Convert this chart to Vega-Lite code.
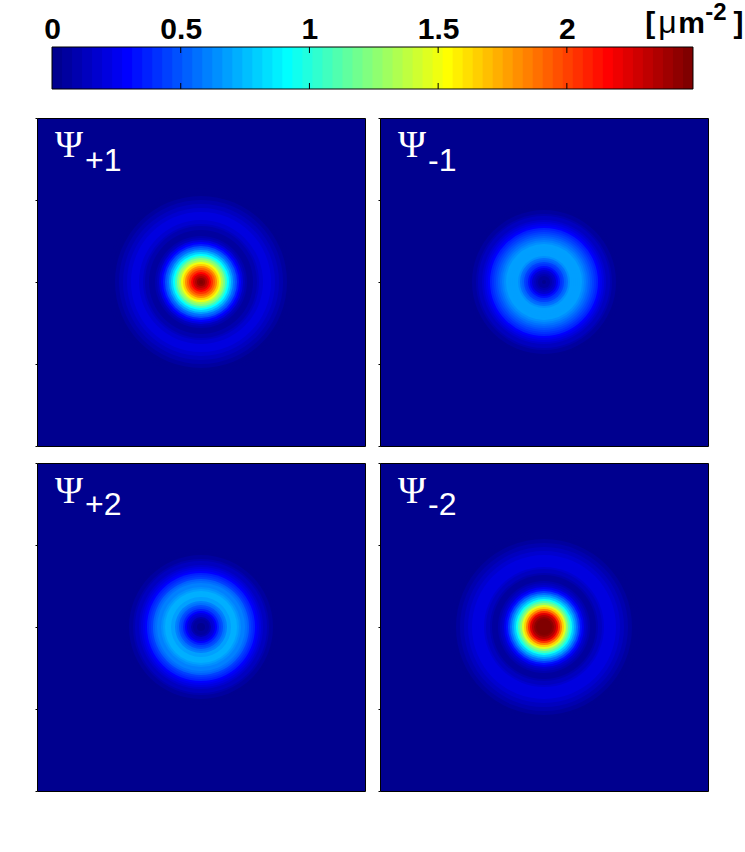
{
"$schema":"https://vega.github.io/schema/vega-lite/v6.json",
"padding":{"left":34,"top":0,"right":0,"bottom":0},
"background":"white",
"config":{"view":{"stroke":null}},
"spacing":27,
"datasets":{"rows":[
{"p":"+1","r":94,"d":0.005},{"p":"+1","r":92,"d":0.01},{"p":"+1","r":90,"d":0.02},{"p":"+1","r":88,"d":0.03},{"p":"+1","r":86,"d":0.045},{"p":"+1","r":84,"d":0.06},{"p":"+1","r":82,"d":0.08},{"p":"+1","r":80,"d":0.10},{"p":"+1","r":78,"d":0.12},{"p":"+1","r":76,"d":0.14},{"p":"+1","r":74,"d":0.16},{"p":"+1","r":72,"d":0.18},{"p":"+1","r":70,"d":0.20},{"p":"+1","r":68,"d":0.21},{"p":"+1","r":66,"d":0.21},{"p":"+1","r":64,"d":0.20},{"p":"+1","r":62,"d":0.19},{"p":"+1","r":60,"d":0.17},{"p":"+1","r":58,"d":0.14},{"p":"+1","r":56,"d":0.11},{"p":"+1","r":54,"d":0.09},{"p":"+1","r":52,"d":0.07},{"p":"+1","r":50,"d":0.06},{"p":"+1","r":48,"d":0.07},{"p":"+1","r":46,"d":0.10},{"p":"+1","r":44,"d":0.15},{"p":"+1","r":42,"d":0.21},{"p":"+1","r":40,"d":0.28},{"p":"+1","r":38,"d":0.37},{"p":"+1","r":36,"d":0.47},{"p":"+1","r":34,"d":0.57},{"p":"+1","r":32,"d":0.68},{"p":"+1","r":30,"d":0.80},{"p":"+1","r":28,"d":0.93},{"p":"+1","r":26,"d":1.07},{"p":"+1","r":24,"d":1.21},{"p":"+1","r":22,"d":1.36},{"p":"+1","r":20,"d":1.50},{"p":"+1","r":18,"d":1.65},{"p":"+1","r":16,"d":1.79},{"p":"+1","r":14,"d":1.92},{"p":"+1","r":12,"d":2.05},{"p":"+1","r":10,"d":2.17},{"p":"+1","r":8,"d":2.27},{"p":"+1","r":6,"d":2.36},{"p":"+1","r":4,"d":2.42},{"p":"+1","r":2,"d":2.46},
{"p":"-1","r":78,"d":0.01},{"p":"-1","r":76,"d":0.02},{"p":"-1","r":74,"d":0.03},{"p":"-1","r":72,"d":0.05},{"p":"-1","r":70,"d":0.07},{"p":"-1","r":68,"d":0.09},{"p":"-1","r":66,"d":0.12},{"p":"-1","r":64,"d":0.15},{"p":"-1","r":62,"d":0.18},{"p":"-1","r":60,"d":0.22},{"p":"-1","r":58,"d":0.26},{"p":"-1","r":56,"d":0.31},{"p":"-1","r":54,"d":0.36},{"p":"-1","r":52,"d":0.41},{"p":"-1","r":50,"d":0.46},{"p":"-1","r":48,"d":0.50},{"p":"-1","r":46,"d":0.54},{"p":"-1","r":44,"d":0.58},{"p":"-1","r":42,"d":0.61},{"p":"-1","r":40,"d":0.64},{"p":"-1","r":38,"d":0.67},{"p":"-1","r":36,"d":0.69},{"p":"-1","r":34,"d":0.70},{"p":"-1","r":32,"d":0.70},{"p":"-1","r":30,"d":0.69},{"p":"-1","r":28,"d":0.67},{"p":"-1","r":26,"d":0.63},{"p":"-1","r":24,"d":0.58},{"p":"-1","r":22,"d":0.52},{"p":"-1","r":20,"d":0.46},{"p":"-1","r":18,"d":0.39},{"p":"-1","r":16,"d":0.32},{"p":"-1","r":14,"d":0.25},{"p":"-1","r":12,"d":0.18},{"p":"-1","r":10,"d":0.13},{"p":"-1","r":8,"d":0.09},{"p":"-1","r":6,"d":0.06},{"p":"-1","r":4,"d":0.04},{"p":"-1","r":2,"d":0.03},
{"p":"+2","r":78,"d":0.01},{"p":"+2","r":76,"d":0.02},{"p":"+2","r":74,"d":0.03},{"p":"+2","r":72,"d":0.05},{"p":"+2","r":70,"d":0.07},{"p":"+2","r":68,"d":0.09},{"p":"+2","r":66,"d":0.12},{"p":"+2","r":64,"d":0.15},{"p":"+2","r":62,"d":0.18},{"p":"+2","r":60,"d":0.22},{"p":"+2","r":58,"d":0.26},{"p":"+2","r":56,"d":0.31},{"p":"+2","r":54,"d":0.36},{"p":"+2","r":52,"d":0.41},{"p":"+2","r":50,"d":0.46},{"p":"+2","r":48,"d":0.51},{"p":"+2","r":46,"d":0.55},{"p":"+2","r":44,"d":0.59},{"p":"+2","r":42,"d":0.62},{"p":"+2","r":40,"d":0.65},{"p":"+2","r":38,"d":0.70},{"p":"+2","r":36,"d":0.72},{"p":"+2","r":34,"d":0.73},{"p":"+2","r":32,"d":0.72},{"p":"+2","r":30,"d":0.70},{"p":"+2","r":28,"d":0.67},{"p":"+2","r":26,"d":0.62},{"p":"+2","r":24,"d":0.56},{"p":"+2","r":22,"d":0.50},{"p":"+2","r":20,"d":0.43},{"p":"+2","r":18,"d":0.36},{"p":"+2","r":16,"d":0.29},{"p":"+2","r":14,"d":0.22},{"p":"+2","r":12,"d":0.16},{"p":"+2","r":10,"d":0.11},{"p":"+2","r":8,"d":0.07},{"p":"+2","r":6,"d":0.05},{"p":"+2","r":4,"d":0.03},{"p":"+2","r":2,"d":0.02},
{"p":"-2","r":96,"d":0.005},{"p":"-2","r":94,"d":0.01},{"p":"-2","r":92,"d":0.02},{"p":"-2","r":90,"d":0.03},{"p":"-2","r":88,"d":0.045},{"p":"-2","r":86,"d":0.06},{"p":"-2","r":84,"d":0.08},{"p":"-2","r":82,"d":0.10},{"p":"-2","r":80,"d":0.12},{"p":"-2","r":78,"d":0.14},{"p":"-2","r":76,"d":0.16},{"p":"-2","r":74,"d":0.18},{"p":"-2","r":72,"d":0.20},{"p":"-2","r":70,"d":0.22},{"p":"-2","r":68,"d":0.22},{"p":"-2","r":66,"d":0.22},{"p":"-2","r":64,"d":0.21},{"p":"-2","r":62,"d":0.20},{"p":"-2","r":60,"d":0.18},{"p":"-2","r":58,"d":0.15},{"p":"-2","r":56,"d":0.12},{"p":"-2","r":54,"d":0.09},{"p":"-2","r":52,"d":0.07},{"p":"-2","r":50,"d":0.06},{"p":"-2","r":48,"d":0.06},{"p":"-2","r":46,"d":0.09},{"p":"-2","r":44,"d":0.13},{"p":"-2","r":42,"d":0.19},{"p":"-2","r":40,"d":0.26},{"p":"-2","r":38,"d":0.35},{"p":"-2","r":36,"d":0.45},{"p":"-2","r":34,"d":0.56},{"p":"-2","r":32,"d":0.68},{"p":"-2","r":30,"d":0.81},{"p":"-2","r":28,"d":0.95},{"p":"-2","r":26,"d":1.10},{"p":"-2","r":24,"d":1.27},{"p":"-2","r":22,"d":1.45},{"p":"-2","r":20,"d":1.65},{"p":"-2","r":18,"d":1.85},{"p":"-2","r":16,"d":2.05},{"p":"-2","r":14,"d":2.22},{"p":"-2","r":12,"d":2.35},{"p":"-2","r":10,"d":2.45},{"p":"-2","r":8,"d":2.48}],
"labels":[
{"p":"+1","psi":"Ψ","sub":"+1","px":18,"sx":48,"py":289,"sy":275},
{"p":"-1","psi":"Ψ","sub":"-1","px":18,"sx":48,"py":289,"sy":275},
{"p":"+2","psi":"Ψ","sub":"+2","px":18,"sx":48,"py":288,"sy":276},
{"p":"-2","psi":"Ψ","sub":"-2","px":18,"sx":48,"py":288,"sy":276}]},
"vconcat":[
{"width":671,"height":42,
 "layer":[
 {"data":{"values":[{"lo":0,"d":0.02},{"lo":0.0389,"d":0.06},{"lo":0.0778,"d":0.10},{"lo":0.1167,"d":0.14},{"lo":0.1556,"d":0.18},{"lo":0.1945,"d":0.21},{"lo":0.2334,"d":0.25},{"lo":0.2723,"d":0.29},{"lo":0.3112,"d":0.33},{"lo":0.3501,"d":0.37},{"lo":0.3891,"d":0.41},{"lo":0.4280,"d":0.45},{"lo":0.4669,"d":0.49},{"lo":0.5058,"d":0.53},{"lo":0.5447,"d":0.56},{"lo":0.5836,"d":0.60},{"lo":0.6225,"d":0.64},{"lo":0.6614,"d":0.68},{"lo":0.7003,"d":0.72},{"lo":0.7392,"d":0.76},{"lo":0.7781,"d":0.80},{"lo":0.8170,"d":0.84},{"lo":0.8559,"d":0.88},{"lo":0.8948,"d":0.91},{"lo":0.9337,"d":0.95},{"lo":0.9727,"d":0.99},{"lo":1.0116,"d":1.03},{"lo":1.0505,"d":1.07},{"lo":1.0894,"d":1.11},{"lo":1.1283,"d":1.15},{"lo":1.1672,"d":1.19},{"lo":1.2061,"d":1.23},{"lo":1.2450,"d":1.26},{"lo":1.2839,"d":1.30},{"lo":1.3228,"d":1.34},{"lo":1.3617,"d":1.38},{"lo":1.4006,"d":1.42},{"lo":1.4395,"d":1.46},{"lo":1.4784,"d":1.50},{"lo":1.5173,"d":1.54},{"lo":1.5563,"d":1.58},{"lo":1.5952,"d":1.61},{"lo":1.6341,"d":1.65},{"lo":1.6730,"d":1.69},{"lo":1.7119,"d":1.73},{"lo":1.7508,"d":1.77},{"lo":1.7897,"d":1.81},{"lo":1.8286,"d":1.85},{"lo":1.8675,"d":1.89},{"lo":1.9064,"d":1.93},{"lo":1.9453,"d":1.96},{"lo":1.9842,"d":2.00},{"lo":2.0231,"d":2.04},{"lo":2.0620,"d":2.08},{"lo":2.1009,"d":2.12},{"lo":2.1399,"d":2.16},{"lo":2.1788,"d":2.20},{"lo":2.2177,"d":2.24},{"lo":2.2566,"d":2.28},{"lo":2.2955,"d":2.31},{"lo":2.3344,"d":2.35},{"lo":2.3733,"d":2.39},{"lo":2.4122,"d":2.43},{"lo":2.4511,"d":2.47}]},
  "mark":{"type":"rect"},
  "encoding":{
   "x":{"field":"lo","type":"quantitative","scale":{"domain":[-0.0583,2.5483],"nice":false,"zero":false},
    "axis":{"orient":"top","values":[0,0.5,1,1.5,2],"format":"~g","title":null,"grid":false,"domain":false,"ticks":false,"labelFont":"Liberation Sans","labelFontWeight":"bold","labelFontSize":30,"labelColor":"black","labelPadding":3,"labelFlush":false,"labelOverlap":false}},
   "x2":{"datum":2.49},
   "color":{"field":"d","type":"quantitative","legend":null,"scale":{"type":"quantize","domain":[0,2.49],"nice":false,"range":["#00008F","#00009F","#0000AF","#0000BF","#0000CF","#0000DF","#0000EF","#0000FF","#0010FF","#0020FF","#0030FF","#0040FF","#0050FF","#0060FF","#0070FF","#0080FF","#008FFF","#009FFF","#00AFFF","#00BFFF","#00CFFF","#00DFFF","#00EFFF","#00FFFF","#10FFEF","#20FFDF","#30FFCF","#40FFBF","#50FFAF","#60FF9F","#70FF8F","#80FF80","#8FFF70","#9FFF60","#AFFF50","#BFFF40","#CFFF30","#DFFF20","#EFFF10","#FFFF00","#FFEF00","#FFDF00","#FFCF00","#FFBF00","#FFAF00","#FF9F00","#FF8F00","#FF8000","#FF7000","#FF6000","#FF5000","#FF4000","#FF3000","#FF2000","#FF1000","#FF0000","#EF0000","#DF0000","#CF0000","#BF0000","#AF0000","#9F0000","#8F0000","#800000"]}}
  }},
 {"data":{"values":[{"lo":0,"hi":2.49}]},
  "mark":{"type":"rect","fillOpacity":0,"stroke":"black","strokeWidth":1},
  "encoding":{
   "x":{"field":"lo","type":"quantitative"},
   "x2":{"field":"hi"}
  }},
 {"data":{"values":[{"v":0.5},{"v":1},{"v":1.5},{"v":2}]},
  "mark":{"type":"rule","color":"black","strokeWidth":1},
  "encoding":{"x":{"field":"v","type":"quantitative"},"y":{"datum":0,"type":"quantitative","axis":null,"scale":{"domain":[0,1],"nice":false}},"y2":{"datum":0.143}}},
 {"data":{"values":[{"v":0.5},{"v":1},{"v":1.5},{"v":2}]},
  "mark":{"type":"rule","color":"black","strokeWidth":1},
  "encoding":{"x":{"field":"v","type":"quantitative"},"y":{"datum":0.857,"type":"quantitative"},"y2":{"datum":1}}},
 {"data":{"values":[{"t":"[","x":2.305,"y":1.33},{"t":"m","x":2.433,"y":1.33},{"t":"]","x":2.647,"y":1.33}]},
  "mark":{"type":"text","align":"left","baseline":"alphabetic","font":"Liberation Sans","fontWeight":"bold","fontSize":30,"color":"black"},
  "encoding":{"x":{"field":"x","type":"quantitative"},"y":{"field":"y","type":"quantitative"},"text":{"field":"t"}}},
 {"data":{"values":[{"t":"μ","x":2.355,"y":1.33}]},
  "mark":{"type":"text","align":"left","baseline":"alphabetic","font":"Liberation Sans","fontSize":32,"color":"black"},
  "encoding":{"x":{"field":"x","type":"quantitative"},"y":{"field":"y","type":"quantitative"},"text":{"field":"t"}}},
 {"data":{"values":[{"t":"-2","x":2.538,"y":1.643}]},
  "mark":{"type":"text","align":"left","baseline":"alphabetic","font":"Liberation Sans","fontWeight":"bold","fontSize":24,"color":"black"},
  "encoding":{"x":{"field":"x","type":"quantitative"},"y":{"field":"y","type":"quantitative"},"text":{"field":"t"}}}
 ]},
{"columns":2,"spacing":{"row":15,"column":11},
 "concat":[
 {"width":328,"height":328,"view":{"fill":"#00008F","stroke":"black","strokeWidth":1},
  "layer":[
   {"data":{"name":"rows"},"transform":[{"filter":"datum.p==='+1'"}],"mark":{"type":"arc","theta":0,"theta2":6.2832},
    "encoding":{"radius":{"field":"r","type":"quantitative","stack":null,"scale":{"type":"linear","domain":[0,164],"range":[0,164]}},"color":{"field":"d","type":"quantitative","legend":null,"scale":{"type":"quantize","domain":[0,2.49],"nice":false,"range":["#00008F","#00009F","#0000AF","#0000BF","#0000CF","#0000DF","#0000EF","#0000FF","#0010FF","#0020FF","#0030FF","#0040FF","#0050FF","#0060FF","#0070FF","#0080FF","#008FFF","#009FFF","#00AFFF","#00BFFF","#00CFFF","#00DFFF","#00EFFF","#00FFFF","#10FFEF","#20FFDF","#30FFCF","#40FFBF","#50FFAF","#60FF9F","#70FF8F","#80FF80","#8FFF70","#9FFF60","#AFFF50","#BFFF40","#CFFF30","#DFFF20","#EFFF10","#FFFF00","#FFEF00","#FFDF00","#FFCF00","#FFBF00","#FFAF00","#FF9F00","#FF8F00","#FF8000","#FF7000","#FF6000","#FF5000","#FF4000","#FF3000","#FF2000","#FF1000","#FF0000","#EF0000","#DF0000","#CF0000","#BF0000","#AF0000","#9F0000","#8F0000","#800000"]}}}},
   {"data":{"name":"labels"},"transform":[{"filter":"datum.p==='+1'"}],"mark":{"type":"text","align":"left","baseline":"alphabetic","font":"Liberation Serif","fontSize":38,"color":"white"},
    "encoding":{"x":{"field":"px","type":"quantitative","axis":null,"scale":{"domain":[0,328],"nice":false}},"y":{"field":"py","type":"quantitative","scale":{"domain":[0,328],"nice":false},"axis":{"orient":"left","values":[0,82,164,246,328],"title":null,"labels":false,"domain":false,"grid":false,"tickSize":2,"tickColor":"black"}},"text":{"field":"psi"}}},
   {"data":{"name":"labels"},"transform":[{"filter":"datum.p==='+1'"}],"mark":{"type":"text","align":"left","baseline":"alphabetic","font":"Liberation Sans","fontSize":32,"color":"white"},
    "encoding":{"x":{"field":"sx","type":"quantitative"},"y":{"field":"sy","type":"quantitative"},"text":{"field":"sub"}}}
  ]},
 {"width":328,"height":328,"view":{"fill":"#00008F","stroke":"black","strokeWidth":1},
  "layer":[
   {"data":{"name":"rows"},"transform":[{"filter":"datum.p==='-1'"}],"mark":{"type":"arc","theta":0,"theta2":6.2832},
    "encoding":{"radius":{"field":"r","type":"quantitative","stack":null,"scale":{"type":"linear","domain":[0,164],"range":[0,164]}},"color":{"field":"d","type":"quantitative","legend":null,"scale":{"type":"quantize","domain":[0,2.49],"nice":false,"range":["#00008F","#00009F","#0000AF","#0000BF","#0000CF","#0000DF","#0000EF","#0000FF","#0010FF","#0020FF","#0030FF","#0040FF","#0050FF","#0060FF","#0070FF","#0080FF","#008FFF","#009FFF","#00AFFF","#00BFFF","#00CFFF","#00DFFF","#00EFFF","#00FFFF","#10FFEF","#20FFDF","#30FFCF","#40FFBF","#50FFAF","#60FF9F","#70FF8F","#80FF80","#8FFF70","#9FFF60","#AFFF50","#BFFF40","#CFFF30","#DFFF20","#EFFF10","#FFFF00","#FFEF00","#FFDF00","#FFCF00","#FFBF00","#FFAF00","#FF9F00","#FF8F00","#FF8000","#FF7000","#FF6000","#FF5000","#FF4000","#FF3000","#FF2000","#FF1000","#FF0000","#EF0000","#DF0000","#CF0000","#BF0000","#AF0000","#9F0000","#8F0000","#800000"]}}}},
   {"data":{"name":"labels"},"transform":[{"filter":"datum.p==='-1'"}],"mark":{"type":"text","align":"left","baseline":"alphabetic","font":"Liberation Serif","fontSize":38,"color":"white"},
    "encoding":{"x":{"field":"px","type":"quantitative","axis":null,"scale":{"domain":[0,328],"nice":false}},"y":{"field":"py","type":"quantitative","scale":{"domain":[0,328],"nice":false},"axis":{"orient":"left","values":[0,82,164,246,328],"title":null,"labels":false,"domain":false,"grid":false,"tickSize":2,"tickColor":"black"}},"text":{"field":"psi"}}},
   {"data":{"name":"labels"},"transform":[{"filter":"datum.p==='-1'"}],"mark":{"type":"text","align":"left","baseline":"alphabetic","font":"Liberation Sans","fontSize":32,"color":"white"},
    "encoding":{"x":{"field":"sx","type":"quantitative"},"y":{"field":"sy","type":"quantitative"},"text":{"field":"sub"}}}
  ]},
 {"width":328,"height":328,"view":{"fill":"#00008F","stroke":"black","strokeWidth":1},
  "layer":[
   {"data":{"name":"rows"},"transform":[{"filter":"datum.p==='+2'"}],"mark":{"type":"arc","theta":0,"theta2":6.2832},
    "encoding":{"radius":{"field":"r","type":"quantitative","stack":null,"scale":{"type":"linear","domain":[0,164],"range":[0,164]}},"color":{"field":"d","type":"quantitative","legend":null,"scale":{"type":"quantize","domain":[0,2.49],"nice":false,"range":["#00008F","#00009F","#0000AF","#0000BF","#0000CF","#0000DF","#0000EF","#0000FF","#0010FF","#0020FF","#0030FF","#0040FF","#0050FF","#0060FF","#0070FF","#0080FF","#008FFF","#009FFF","#00AFFF","#00BFFF","#00CFFF","#00DFFF","#00EFFF","#00FFFF","#10FFEF","#20FFDF","#30FFCF","#40FFBF","#50FFAF","#60FF9F","#70FF8F","#80FF80","#8FFF70","#9FFF60","#AFFF50","#BFFF40","#CFFF30","#DFFF20","#EFFF10","#FFFF00","#FFEF00","#FFDF00","#FFCF00","#FFBF00","#FFAF00","#FF9F00","#FF8F00","#FF8000","#FF7000","#FF6000","#FF5000","#FF4000","#FF3000","#FF2000","#FF1000","#FF0000","#EF0000","#DF0000","#CF0000","#BF0000","#AF0000","#9F0000","#8F0000","#800000"]}}}},
   {"data":{"name":"labels"},"transform":[{"filter":"datum.p==='+2'"}],"mark":{"type":"text","align":"left","baseline":"alphabetic","font":"Liberation Serif","fontSize":38,"color":"white"},
    "encoding":{"x":{"field":"px","type":"quantitative","axis":null,"scale":{"domain":[0,328],"nice":false}},"y":{"field":"py","type":"quantitative","scale":{"domain":[0,328],"nice":false},"axis":{"orient":"left","values":[0,82,164,246,328],"title":null,"labels":false,"domain":false,"grid":false,"tickSize":2,"tickColor":"black"}},"text":{"field":"psi"}}},
   {"data":{"name":"labels"},"transform":[{"filter":"datum.p==='+2'"}],"mark":{"type":"text","align":"left","baseline":"alphabetic","font":"Liberation Sans","fontSize":32,"color":"white"},
    "encoding":{"x":{"field":"sx","type":"quantitative"},"y":{"field":"sy","type":"quantitative"},"text":{"field":"sub"}}}
  ]},
 {"width":328,"height":328,"view":{"fill":"#00008F","stroke":"black","strokeWidth":1},
  "layer":[
   {"data":{"name":"rows"},"transform":[{"filter":"datum.p==='-2'"}],"mark":{"type":"arc","theta":0,"theta2":6.2832},
    "encoding":{"radius":{"field":"r","type":"quantitative","stack":null,"scale":{"type":"linear","domain":[0,164],"range":[0,164]}},"color":{"field":"d","type":"quantitative","legend":null,"scale":{"type":"quantize","domain":[0,2.49],"nice":false,"range":["#00008F","#00009F","#0000AF","#0000BF","#0000CF","#0000DF","#0000EF","#0000FF","#0010FF","#0020FF","#0030FF","#0040FF","#0050FF","#0060FF","#0070FF","#0080FF","#008FFF","#009FFF","#00AFFF","#00BFFF","#00CFFF","#00DFFF","#00EFFF","#00FFFF","#10FFEF","#20FFDF","#30FFCF","#40FFBF","#50FFAF","#60FF9F","#70FF8F","#80FF80","#8FFF70","#9FFF60","#AFFF50","#BFFF40","#CFFF30","#DFFF20","#EFFF10","#FFFF00","#FFEF00","#FFDF00","#FFCF00","#FFBF00","#FFAF00","#FF9F00","#FF8F00","#FF8000","#FF7000","#FF6000","#FF5000","#FF4000","#FF3000","#FF2000","#FF1000","#FF0000","#EF0000","#DF0000","#CF0000","#BF0000","#AF0000","#9F0000","#8F0000","#800000"]}}}},
   {"data":{"name":"labels"},"transform":[{"filter":"datum.p==='-2'"}],"mark":{"type":"text","align":"left","baseline":"alphabetic","font":"Liberation Serif","fontSize":38,"color":"white"},
    "encoding":{"x":{"field":"px","type":"quantitative","axis":null,"scale":{"domain":[0,328],"nice":false}},"y":{"field":"py","type":"quantitative","scale":{"domain":[0,328],"nice":false},"axis":{"orient":"left","values":[0,82,164,246,328],"title":null,"labels":false,"domain":false,"grid":false,"tickSize":2,"tickColor":"black"}},"text":{"field":"psi"}}},
   {"data":{"name":"labels"},"transform":[{"filter":"datum.p==='-2'"}],"mark":{"type":"text","align":"left","baseline":"alphabetic","font":"Liberation Sans","fontSize":32,"color":"white"},
    "encoding":{"x":{"field":"sx","type":"quantitative"},"y":{"field":"sy","type":"quantitative"},"text":{"field":"sub"}}}
  ]}
 ]}
]}
